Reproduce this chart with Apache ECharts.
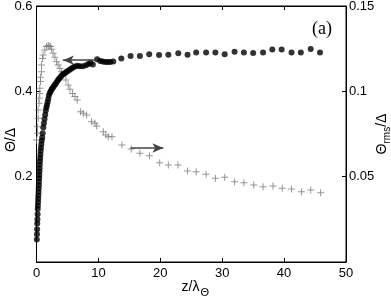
<!DOCTYPE html>
<html>
<head>
<meta charset="utf-8">
<script src="https://cdn.jsdelivr.net/npm/echarts@6/dist/echarts.min.js"></script>
<style>html,body{margin:0;padding:0;background:#fff;}#c{width:391px;height:300px;}</style>
</head>
<body>
<div id="c"></div>
<script>
// Θ/Δ (left axis, black dots)
const zDots = [0.05,0.08,0.1,0.12,0.15,0.18,0.2,0.22,0.25,0.28,0.3,0.33,0.35,0.38,0.4,0.43,0.45,0.48,0.5,0.53,0.56,0.6,0.63,0.67,0.72,0.78,0.85,0.92,1.0,1.1,1.2,1.3,1.4,1.5,1.6,1.7,1.8,1.9,2.0,2.15,2.3,2.45,2.6,2.8,3.0,3.2,3.4,3.6,3.8,4.0,4.25,4.5,4.75,5.0,5.3,5.6,5.9,6.2,6.6,7.0,7.5,8.0,8.4,8.7,9.1,9.8,10.3,10.7,11.1,11.5,11.9,12.4,13.7,15.2,16.7,18.2,19.8,21.3,22.9,24.4,25.8,27.4,28.9,30.4,32.0,33.5,35.0,36.6,38.1,39.6,41.2,42.7,44.3,45.8];
const thetaDots = [0.053,0.065,0.077,0.09,0.1,0.112,0.124,0.132,0.14,0.148,0.156,0.164,0.172,0.18,0.188,0.196,0.204,0.212,0.22,0.228,0.236,0.244,0.252,0.26,0.268,0.276,0.284,0.292,0.302,0.315,0.325,0.335,0.345,0.355,0.362,0.368,0.375,0.382,0.39,0.396,0.4,0.405,0.408,0.412,0.416,0.42,0.425,0.429,0.432,0.436,0.44,0.442,0.445,0.447,0.45,0.453,0.456,0.458,0.46,0.459,0.459,0.461,0.464,0.467,0.463,0.475,0.471,0.47,0.469,0.469,0.469,0.47,0.477,0.483,0.483,0.487,0.485,0.486,0.489,0.486,0.491,0.491,0.491,0.487,0.493,0.491,0.49,0.491,0.498,0.498,0.491,0.491,0.499,0.491];
// Θrms/Δ (right axis, gray plus)
const zPlus = [0.0,0.16,0.16,0.26,0.26,0.42,0.42,0.53,0.53,0.65,0.65,0.81,0.81,0.97,1.07,1.35,1.62,1.88,2.04,2.27,2.43,2.69,2.97,3.24,3.5,3.78,4.05,4.42,4.75,5.12,5.4,5.83,6.2,6.58,7.13,7.55,8.1,8.9,9.45,9.72,10.8,11.2,11.6,12.2,13.8,15.3,16.7,18.25,19.9,21.3,22.85,24.4,25.8,27.4,28.9,30.4,32.0,33.5,35.1,36.6,38.2,39.7,41.2,42.8,44.3,45.9];
const rmsPlus = [0.0715,0.0754,0.0793,0.0842,0.089,0.093,0.0959,0.0988,0.1018,0.1057,0.1082,0.1115,0.1154,0.1193,0.1213,0.1242,0.1262,0.1268,0.1266,0.1262,0.1246,0.1223,0.12,0.1174,0.1154,0.1135,0.1115,0.1096,0.1066,0.1037,0.1012,0.0988,0.0969,0.0949,0.0881,0.0871,0.0861,0.0822,0.0813,0.0797,0.0763,0.0744,0.0734,0.0734,0.0686,0.0662,0.0637,0.0623,0.0582,0.0568,0.0568,0.0533,0.0529,0.0514,0.049,0.0496,0.047,0.0465,0.0451,0.0441,0.0445,0.0432,0.0428,0.0412,0.0422,0.0406];
// arrows (data coordinates)
const arrowLeft = {from:[9.45,0.473], to:[4.26,0.473]};
const arrowRight = {from:[15.2,0.0668], to:[20.5,0.0668]};

const font = 'Liberation Sans, Arial, Helvetica, sans-serif';
const chart = echarts.init(document.getElementById('c'), null, {renderer:'canvas'});
const tickStyle = {show:true, inside:true, length:4, lineStyle:{color:'#000', width:1}};
const lineStyle = {show:true, onZero:false, lineStyle:{color:'#000', width:1}};
const plusPath = 'path://M0,3L7,3L7,4L0,4Z M3,0L4,0L4,7L3,7Z';
chart.setOption({
  animation:false,
  backgroundColor:'#fff',
  title:{text:'(a)', right:54, top:15, textStyle:{fontFamily:'Liberation Serif, Times New Roman, serif', fontSize:18, fontWeight:'normal', color:'#000'}},
  grid:{left:36.5, right:45, top:6, bottom:38, containLabel:false, outerBoundsMode:'none',
        show:true, borderColor:'#000', borderWidth:1, backgroundColor:'transparent'},
  xAxis:[
    {type:'value', min:0, max:50, interval:10, position:'bottom',
      axisLine:lineStyle, axisTick:tickStyle, splitLine:{show:false},
      name:'{a|z/λ}{s|Θ}', nameLocation:'middle', nameGap:15, nameMoveOverlap:false,
      nameTextStyle:{padding:[0,0,0,8], rich:{a:{fontSize:14, fontFamily:font, color:'#000'}, s:{fontSize:11, fontFamily:font, color:'#000', padding:[10,0,0,1]}}},
      axisLabel:{color:'#000', fontSize:13, fontFamily:font, margin:5}},
    {type:'value', min:0, max:50, interval:10, position:'top',
      axisLine:lineStyle, axisTick:tickStyle, splitLine:{show:false}, axisLabel:{show:false}}
  ],
  yAxis:[
    {type:'value', min:0, max:0.6, interval:0.2, position:'left',
      axisLine:lineStyle, axisTick:tickStyle, splitLine:{show:false},
      name:'Θ/Δ', nameLocation:'middle', nameGap:18, nameRotate:90, nameMoveOverlap:false,
      nameTextStyle:{fontSize:14, fontFamily:font, color:'#000', padding:[0,12,0,0]},
      axisLabel:{color:'#000', fontSize:13, fontFamily:font, margin:4, formatter:v=> v===0?'':String(v)}},
    {type:'value', min:0, max:0.15, interval:0.05, position:'right',
      axisLine:lineStyle, axisTick:tickStyle, splitLine:{show:false},
      name:'{a|Θ}{s|rms}{a|/Δ}', nameLocation:'middle', nameGap:26, nameRotate:90, nameMoveOverlap:false,
      nameTextStyle:{rich:{a:{fontSize:14, fontFamily:font, color:'#000'}, s:{fontSize:10, fontFamily:font, color:'#000', padding:[10,0,0,0]}}},
      axisLabel:{color:'#000', fontSize:13, fontFamily:font, margin:3, formatter:v=> v===0?'':String(v)}}
  ],
  series:[
    {type:'scatter', xAxisIndex:0, yAxisIndex:1, data:zPlus.map((z,i)=>[z,rmsPlus[i]]),
     symbol:plusPath, symbolSize:7, itemStyle:{color:'#7a7a7a'}, silent:true,
     markLine:{silent:true, symbol:['none','arrow'], symbolSize:[7,11], label:{show:false},
       lineStyle:{color:'#444', width:1.5, type:'solid'},
       data:[[{coord:arrowRight.from},{coord:arrowRight.to}]]}},
    {type:'scatter', xAxisIndex:0, yAxisIndex:0, data:zDots.map((z,i)=>[z,thetaDots[i]]),
     symbol:'circle', symbolSize:6, itemStyle:{color:'#000'}, silent:true,
     markLine:{silent:true, symbol:['none','arrow'], symbolSize:[7,11], label:{show:false},
       lineStyle:{color:'#444', width:1.5, type:'solid'},
       data:[[{coord:arrowLeft.from},{coord:arrowLeft.to}]]}}
  ]
});
</script>
</body>
</html>
